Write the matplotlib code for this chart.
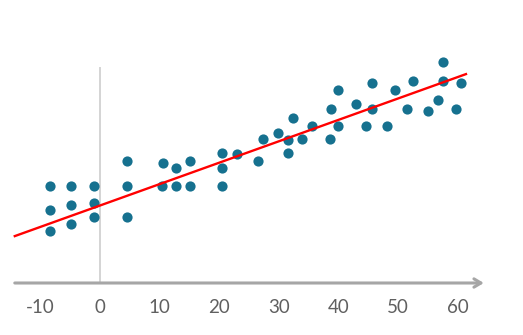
import numpy as np
import matplotlib
matplotlib.use('Agg')
import matplotlib.pyplot as plt

plt.rcParams['font.family'] = ['Lato', 'DejaVu Sans']

# 散点数据
x_vals = [-8.4, -4.9, -1.0, 4.5, 4.5, 10.5, 12.8, 10.4, 12.8, -8.4, -4.9, -1.0,
          -8.4, -4.9, -1.0, 4.5, 15.1, 15.1, 20.5, 20.5, 20.5, 23.0, 26.5, 27.3,
          29.9, 32.4, 31.5, 31.5, 33.9, 35.6, 38.6, 39.9, 39.9, 38.8, 43.0, 45.6,
          45.6, 44.6, 48.2, 49.5, 52.5, 51.5, 55.0, 56.7, 57.6, 57.6, 59.7, 60.6]
y_vals = [9.7, 9.7, 9.7, 12.2, 9.7, 12.0, 11.5, 9.7, 9.7, 7.3, 7.8, 8.0,
          5.2, 5.9, 6.6, 6.6, 12.2, 9.7, 13.0, 11.5, 9.7, 12.9, 12.2, 14.4,
          15.0, 16.5, 14.3, 13.0, 14.4, 15.7, 14.4, 19.3, 15.7, 17.4, 17.9, 20.0,
          17.4, 15.7, 15.7, 19.3, 20.2, 17.4, 17.2, 18.3, 22.1, 20.2, 17.4, 20.0]

# 拟合直线
line_intercept = 7.75
line_slope = 0.214
line_x = [-14.3, 61.4]

xticks = [-10, 0, 10, 20, 30, 40, 50, 60]

fig = plt.figure(figsize=(5.23, 3.35), dpi=100)
ax = fig.add_axes([0, 0, 1, 1])
ax.set_xlim(-16.78, 70.97)
ax.set_ylim(-5.2, 28.3)

for s in ['top', 'right', 'left']:
    ax.spines[s].set_visible(False)
ax.spines['bottom'].set_position(('data', 0))
ax.spines['bottom'].set_visible(False)
ax.set_yticks([])
ax.set_xticks(xticks)
ax.set_xticklabels([str(t) for t in xticks])
ax.tick_params(axis='x', length=0, pad=11.5, labelsize=13.5, labelcolor='#606060')

# 横轴箭头
ax.annotate('', xy=(64.4, 0), xytext=(-14.3, 0),
            arrowprops=dict(arrowstyle='->,head_length=0.5,head_width=0.3',
                            color='#a6a6a6', lw=2.2, shrinkA=0, shrinkB=0))
# 纵向参考线
ax.plot([0, 0], [0, 21.5], color='#d4d4d4', lw=1.4, zorder=1)

ax.scatter(x_vals, y_vals, s=54, color='#16718f', zorder=3, linewidths=0)

lx = np.array(line_x)
ax.plot(lx, line_intercept + line_slope * lx, color='#ff0000', lw=1.7, zorder=4)

fig.savefig('out.png', dpi=100)
